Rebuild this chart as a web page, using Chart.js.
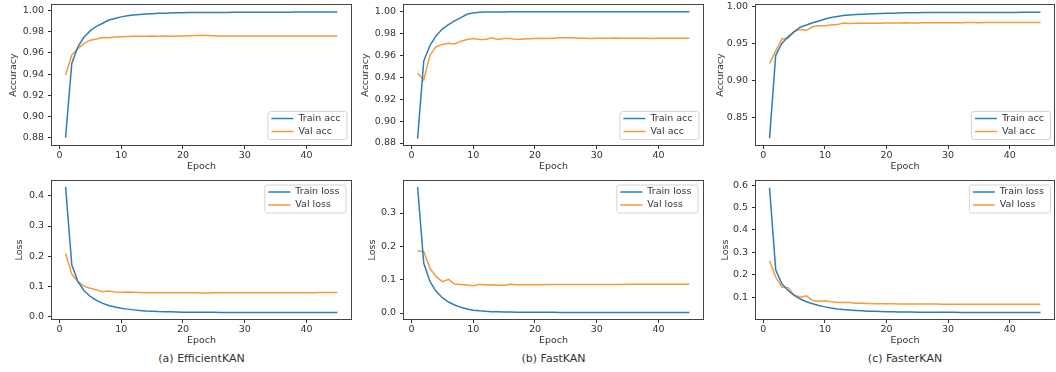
<!DOCTYPE html>
<html><head><meta charset="utf-8">
<script src="https://cdn.jsdelivr.net/npm/chart.js@4.4.0/dist/chart.umd.min.js"></script>
<style>
body{margin:0;background:#fff;width:1056px;height:372px;overflow:hidden;position:relative;font-family:"DejaVu Sans",sans-serif;}
canvas{position:absolute;}
.cap{position:absolute;font-size:11px;color:#333;transform:translate(-50%,-50%);white-space:nowrap;font-family:"DejaVu Sans",sans-serif;}
</style></head><body>
<script>
const epochs = [1,2,3,4,5,6,7,8,9,10,11,12,13,14,15,16,17,18,19,20,21,22,23,24,25,26,27,28,29,30,31,32,33,34,35,36,37,38,39,40,41,42,43,44,45];
const xTicks = [0,10,20,30,40];

// (a) EfficientKAN
const effTrainAcc = [0.880,0.950,0.966,0.975,0.981,0.985,0.988,0.991,0.9925,0.994,0.995,0.9958,0.9963,0.9967,0.9970,0.9973,0.9975,0.9977,0.9978,0.9979,0.9980,0.9980,0.9981,0.9981,0.9982,0.9982,0.9982,0.9983,0.9983,0.9983,0.9983,0.9984,0.9984,0.9984,0.9984,0.9984,0.9984,0.9985,0.9985,0.9985,0.9985,0.9985,0.9985,0.9985,0.9985];
const effValAcc = [0.939,0.958,0.964,0.969,0.972,0.973,0.9745,0.9743,0.9750,0.9753,0.9755,0.9757,0.9758,0.9758,0.9760,0.9758,0.9760,0.9758,0.9759,0.9760,0.9762,0.9765,0.9766,0.9763,0.9761,0.9760,0.9759,0.9760,0.9759,0.9760,0.9760,0.9759,0.9760,0.9760,0.9759,0.9760,0.9760,0.9760,0.9759,0.9760,0.9760,0.9760,0.9760,0.9760,0.9760];
const effTrainLoss = [0.430,0.171,0.115,0.085,0.066,0.053,0.043,0.036,0.031,0.027,0.024,0.0215,0.0195,0.018,0.017,0.016,0.0155,0.015,0.0145,0.014,0.0138,0.0136,0.0135,0.0134,0.0133,0.0132,0.0131,0.0130,0.0130,0.0129,0.0129,0.0128,0.0128,0.0127,0.0127,0.0126,0.0126,0.0126,0.0125,0.0125,0.0125,0.0124,0.0124,0.0124,0.0124];
const effValLoss = [0.209,0.140,0.115,0.100,0.093,0.088,0.082,0.084,0.081,0.080,0.0805,0.080,0.0795,0.0785,0.078,0.078,0.0785,0.0785,0.0782,0.078,0.0782,0.078,0.0778,0.0778,0.078,0.078,0.0781,0.078,0.0782,0.0783,0.0782,0.0783,0.0784,0.0783,0.0784,0.0785,0.0784,0.0785,0.0786,0.0786,0.0787,0.0788,0.0789,0.079,0.079];

// (b) FastKAN
const fastTrainAcc = [0.884,0.955,0.969,0.978,0.984,0.988,0.9915,0.9945,0.9975,0.9988,0.9993,0.9995,0.9996,0.9997,0.9997,0.9998,0.9998,0.9998,0.9998,0.9999,0.9999,0.9999,0.9999,0.9999,0.9999,0.9999,0.9999,0.9999,0.9999,0.9999,0.9999,0.9999,0.9999,0.9999,0.9999,0.9999,0.9999,0.9999,0.9999,0.9999,0.9999,0.9999,0.9999,0.9999,0.9999];
const fastValAcc = [0.944,0.9375,0.960,0.968,0.970,0.971,0.9705,0.973,0.9745,0.9755,0.9745,0.9745,0.976,0.9745,0.9755,0.9755,0.9745,0.975,0.9752,0.9755,0.9757,0.9755,0.9757,0.976,0.9762,0.976,0.9757,0.9756,0.9755,0.9756,0.9757,0.9757,0.9758,0.9756,0.9756,0.9757,0.9757,0.9756,0.9755,0.9756,0.9756,0.9756,0.9756,0.9756,0.9756];
const fastTrainLoss = [0.378,0.149,0.095,0.065,0.046,0.033,0.024,0.017,0.012,0.0085,0.0065,0.005,0.004,0.0035,0.003,0.0028,0.0025,0.0023,0.0022,0.002,0.002,0.0019,0.0019,0.0018,0.0018,0.0018,0.0017,0.0017,0.0017,0.0017,0.0016,0.0016,0.0016,0.0016,0.0016,0.0015,0.0015,0.0015,0.0015,0.0015,0.0015,0.0015,0.0015,0.0015,0.0015];
const fastValLoss = [0.187,0.184,0.134,0.109,0.094,0.101,0.087,0.0855,0.084,0.082,0.086,0.084,0.085,0.083,0.0835,0.0865,0.0845,0.0845,0.0848,0.085,0.085,0.0852,0.0852,0.0855,0.0855,0.0855,0.0856,0.0856,0.0857,0.0857,0.0857,0.0858,0.0858,0.0858,0.0859,0.0859,0.0859,0.086,0.086,0.086,0.086,0.0861,0.0862,0.0863,0.0864];

// (c) FasterKAN
const fasterTrainAcc = [0.822,0.934,0.950,0.959,0.966,0.972,0.975,0.978,0.9805,0.983,0.985,0.9865,0.9878,0.9885,0.989,0.9895,0.9899,0.9902,0.9905,0.9908,0.991,0.9912,0.9914,0.9915,0.9916,0.9917,0.9918,0.9918,0.9919,0.9919,0.992,0.992,0.992,0.992,0.992,0.992,0.992,0.992,0.992,0.992,0.992,0.9921,0.9921,0.9921,0.9922];
const fasterValAcc = [0.923,0.940,0.956,0.957,0.966,0.969,0.968,0.9725,0.974,0.974,0.975,0.9755,0.9775,0.977,0.9775,0.9775,0.9772,0.9775,0.9775,0.9778,0.9777,0.9778,0.978,0.9778,0.9778,0.9779,0.978,0.978,0.9781,0.978,0.978,0.9781,0.9782,0.9782,0.9781,0.9782,0.9782,0.9783,0.9782,0.9783,0.9783,0.9784,0.9784,0.9785,0.9785];
const fasterTrainLoss = [0.588,0.222,0.160,0.130,0.108,0.092,0.080,0.071,0.063,0.057,0.052,0.048,0.045,0.043,0.041,0.0395,0.038,0.037,0.036,0.0355,0.035,0.0345,0.034,0.0338,0.0336,0.0334,0.0332,0.033,0.0328,0.0327,0.0326,0.0325,0.0324,0.0323,0.0322,0.0321,0.032,0.032,0.0319,0.0319,0.0318,0.0318,0.0317,0.0317,0.0317];
const fasterValLoss = [0.262,0.190,0.145,0.142,0.110,0.100,0.106,0.085,0.082,0.084,0.080,0.078,0.077,0.076,0.073,0.073,0.072,0.0715,0.071,0.0705,0.0705,0.070,0.070,0.0698,0.0697,0.0695,0.0695,0.0693,0.0692,0.069,0.069,0.069,0.069,0.0688,0.0688,0.0688,0.0687,0.0687,0.0686,0.0686,0.0686,0.0685,0.0685,0.0684,0.0684];

const accTicksA = [0.88,0.90,0.92,0.94,0.96,0.98,1.00];
const accTicksB = [0.88,0.90,0.92,0.94,0.96,0.98,1.00];
const accTicksC = [0.85,0.90,0.95,1.00];
const lossTicksA = [0.0,0.1,0.2,0.3,0.4];
const lossTicksB = [0.0,0.1,0.2,0.3];
const lossTicksC = [0.1,0.2,0.3,0.4,0.5,0.6];

const captions = ['(a) EfficientKAN','(b) FastKAN','(c) FasterKAN'];
const trainAccLabel = 'Train acc', valAccLabel = 'Val acc';
const trainLossLabel = 'Train loss', valLossLabel = 'Val loss';

const BLUE = '#2f7db6', ORANGE = '#f8993c', TXT = '#333333';
const FONT = {family: 'DejaVu Sans', size: 9.5};

const framePlugin = {
  id: 'frameLegend',
  afterDatasetsDraw(chart) {
    const ctx = chart.ctx, a = chart.chartArea;
    const o = chart.options.plugins.frameLegend;
    ctx.save();
    ctx.strokeStyle = '#444';
    ctx.lineWidth = 1;
    ctx.strokeRect(a.left - 0.5, a.top - 0.5, a.right - a.left + 1, a.bottom - a.top + 1);
    ctx.font = '9.5px "DejaVu Sans"';
    const items = chart.data.datasets;
    const tw = Math.max(...items.map(d => ctx.measureText(d.label).width));
    const w = 4 + 22 + 5 + tw + 6, rowH = 13, h = 28;
    const x = a.right - o.insetX - w;
    const y = o.pos === 'lower right' ? a.bottom - o.insetY - h : a.top + o.insetY;
    ctx.beginPath();
    if (ctx.roundRect) ctx.roundRect(x + 0.5, y + 0.5, w, h, 2.5); else ctx.rect(x + 0.5, y + 0.5, w, h);
    ctx.fillStyle = 'rgba(255,255,255,0.85)';
    ctx.fill();
    ctx.strokeStyle = '#d4d4d4';
    ctx.stroke();
    items.forEach((d, i) => {
      const cy = y + 7.5 + i * rowH;
      ctx.strokeStyle = d.borderColor;
      ctx.lineWidth = 1.5;
      ctx.beginPath(); ctx.moveTo(x + 4, cy); ctx.lineTo(x + 26, cy); ctx.stroke();
      ctx.fillStyle = TXT;
      ctx.textBaseline = 'middle';
      ctx.textAlign = 'left';
      ctx.fillText(d.label, x + 31, cy);
    });
    ctx.restore();
  }
};

function makePanel(p) {
  const padT = 10, padR = 10, xh = 27;
  const W = p.yw + (p.right - p.left) + padR;
  const H = padT + (p.bottom - p.top) + xh;
  const cv = document.createElement('canvas');
  cv.width = W; cv.height = H;
  cv.style.left = (p.left - p.yw) + 'px';
  cv.style.top = (p.top - padT) + 'px';
  cv.style.width = W + 'px'; cv.style.height = H + 'px';
  document.body.appendChild(cv);
  new Chart(cv, {
    type: 'line',
    data: {
      datasets: [
        {label: p.labels[0], data: epochs.map((e, i) => ({x: e, y: p.train[i]})), borderColor: BLUE, borderWidth: 1.5, pointRadius: 0, tension: 0, fill: false},
        {label: p.labels[1], data: epochs.map((e, i) => ({x: e, y: p.val[i]})), borderColor: ORANGE, borderWidth: 1.5, pointRadius: 0, tension: 0, fill: false}
      ]
    },
    options: {
      responsive: false, animation: false, devicePixelRatio: 1,
      layout: {padding: {top: padT, right: padR, left: 0, bottom: 0}},
      plugins: {legend: {display: false}, tooltip: {enabled: false}, frameLegend: {pos: p.legendPos, insetX: p.insetX, insetY: p.insetY}},
      scales: {
        x: {
          type: 'linear', min: -1.2, max: 47.2,
          afterBuildTicks: s => { s.ticks = xTicks.map(v => ({value: v})); },
          afterFit: s => { s.height = xh; },
          grid: {display: true, drawOnChartArea: false, drawTicks: true, tickLength: 4, tickColor: '#333', tickWidth: 1},
          border: {display: false},
          ticks: {padding: 1, color: TXT, font: FONT, maxRotation: 0, autoSkip: false, callback: v => String(v)},
          title: {display: true, text: 'Epoch', color: TXT, font: FONT, padding: 0}
        },
        y: {
          type: 'linear', min: p.ymin, max: p.ymax,
          afterBuildTicks: s => { s.ticks = p.yTicks.map(v => ({value: v})); },
          afterFit: s => { s.width = p.yw; },
          grid: {display: true, drawOnChartArea: false, drawTicks: true, tickLength: 4, tickColor: '#333', tickWidth: 1},
          border: {display: false},
          ticks: {padding: 4, color: TXT, font: FONT, autoSkip: false, callback: v => Number(v).toFixed(p.dec)},
          title: {display: true, text: p.yLabel, color: TXT, font: FONT, padding: 0}
        }
      }
    },
    plugins: [framePlugin]
  });
}

const cols = [{left: 52, right: 351}, {left: 404, right: 703}, {left: 756, right: 1054}];
const topRow = {top: 5, bottom: 145}, botRow = {top: 181, bottom: 319};

makePanel({...cols[0], ...topRow, yw: 44, ymin: 0.8730, ymax: 1.0052, yTicks: accTicksA, dec: 2, yLabel: 'Accuracy', train: effTrainAcc, val: effValAcc, labels: [trainAccLabel, valAccLabel], legendPos: 'lower right', insetX: 4.5, insetY: 6});
makePanel({...cols[1], ...topRow, yw: 44, ymin: 0.8782, ymax: 1.0060, yTicks: accTicksB, dec: 2, yLabel: 'Accuracy', train: fastTrainAcc, val: fastValAcc, labels: [trainAccLabel, valAccLabel], legendPos: 'lower right', insetX: 4.5, insetY: 6});
makePanel({...cols[2], ...topRow, yw: 41, ymin: 0.8128, ymax: 1.0020, yTicks: accTicksC, dec: 2, yLabel: 'Accuracy', train: fasterTrainAcc, val: fasterValAcc, labels: [trainAccLabel, valAccLabel], legendPos: 'lower right', insetX: 4, insetY: 6});
makePanel({...cols[0], ...botRow, yw: 38, ymin: -0.0088, ymax: 0.4495, yTicks: lossTicksA, dec: 1, yLabel: 'Loss', train: effTrainLoss, val: effValLoss, labels: [trainLossLabel, valLossLabel], legendPos: 'upper right', insetX: 5.5, insetY: 3.5});
makePanel({...cols[1], ...botRow, yw: 37, ymin: -0.018, ymax: 0.396, yTicks: lossTicksB, dec: 1, yLabel: 'Loss', train: fastTrainLoss, val: fastValLoss, labels: [trainLossLabel, valLossLabel], legendPos: 'upper right', insetX: 5.5, insetY: 3.5});
makePanel({...cols[2], ...botRow, yw: 36, ymin: 0.003, ymax: 0.618, yTicks: lossTicksC, dec: 1, yLabel: 'Loss', train: fasterTrainLoss, val: fasterValLoss, labels: [trainLossLabel, valLossLabel], legendPos: 'upper right', insetX: 4, insetY: 3.5});

captions.forEach((t, i) => {
  const d = document.createElement('div');
  d.className = 'cap';
  d.textContent = t;
  d.style.left = ((cols[i].left + cols[i].right) / 2) + 'px';
  d.style.top = '358px';
  document.body.appendChild(d);
});
</script>
</body></html>
